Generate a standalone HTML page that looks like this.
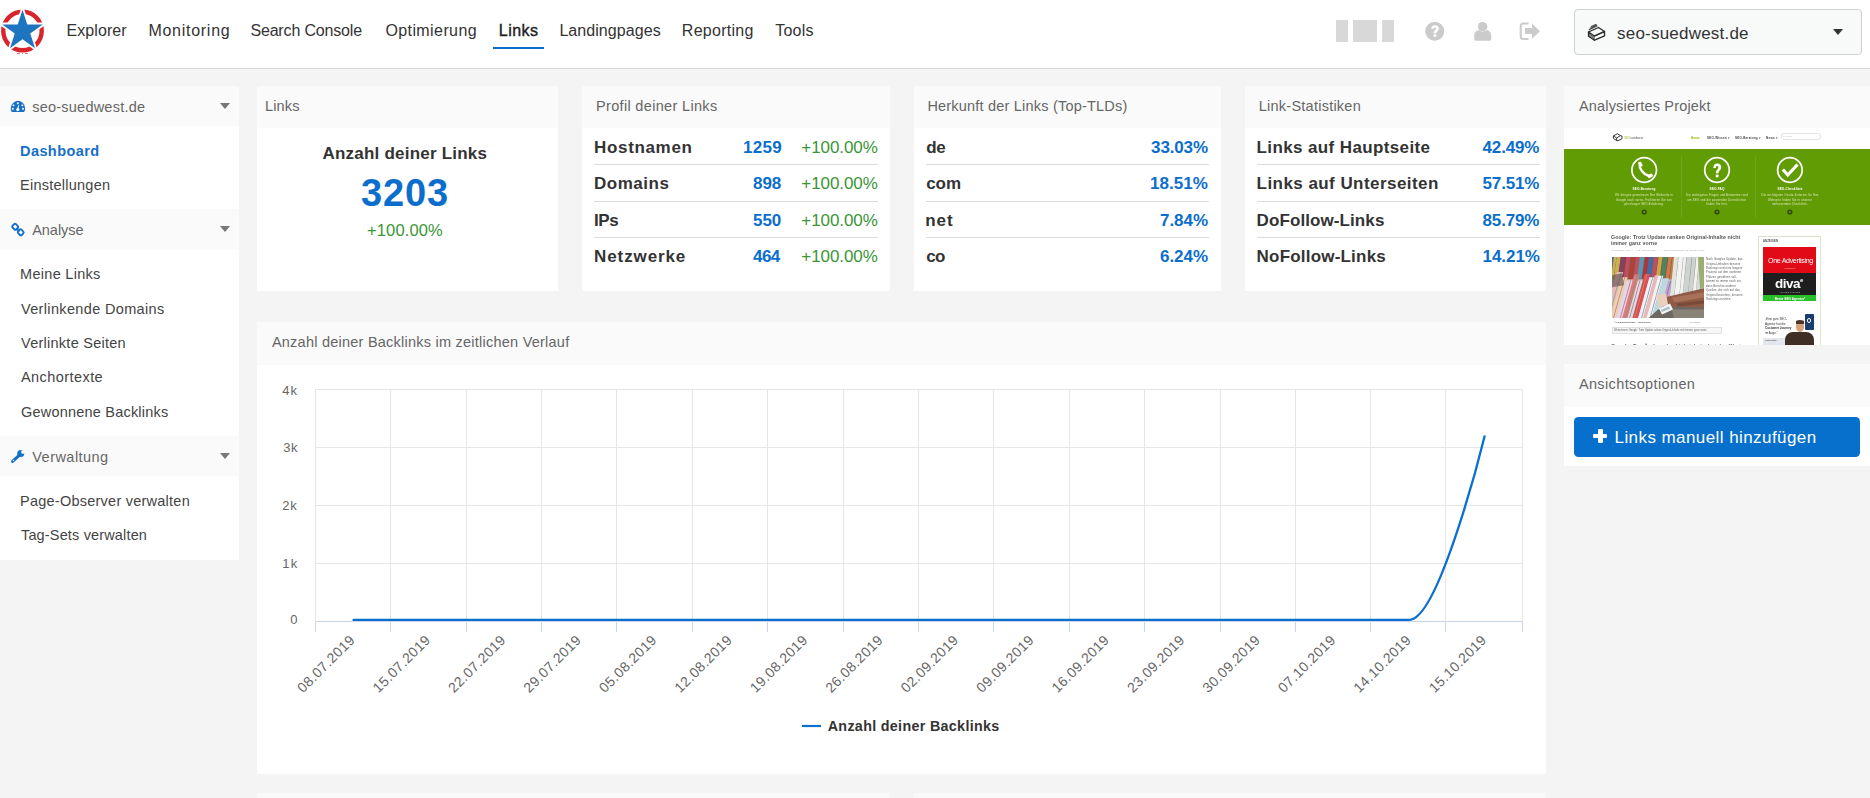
<!DOCTYPE html>
<html lang="de">
<head>
<meta charset="utf-8">
<title>Links – Dashboard</title>
<style>
*{box-sizing:border-box;margin:0;padding:0}
html,body{width:1870px;height:798px;overflow:hidden}
body{position:relative;background:#f4f4f4;font-family:"Liberation Sans",Arial,sans-serif;color:#333}
.a{position:absolute}
.t{position:absolute;white-space:nowrap;line-height:normal;font-family:"Liberation Sans",Arial,sans-serif}
.hdr{left:0;top:0;width:1870px;height:69px;background:#fff;border-bottom:1px solid #d9d9d9}
.pn{position:absolute;background:#fff}
.ph{position:absolute;left:0;top:0;right:0;background:#fafafa}
.band{position:absolute;left:0;width:239px;background:#fafafa}
.sep{position:absolute;height:1px;background:#dcdcdc}
.caret{position:absolute;width:0;height:0;border-left:5px solid transparent;border-right:5px solid transparent;border-top:6px solid #777}
.th{position:absolute;white-space:nowrap;font-family:"Liberation Sans",Arial,sans-serif;line-height:1}
</style>
</head>
<body>
<!-- ============ HEADER ============ -->
<div class="a hdr"></div>
<svg class="a" style="left:0;top:0" width="48" height="58" viewBox="0 0 48 58">
  <circle cx="22.5" cy="31" r="19.2" fill="none" stroke="#d9242c" stroke-width="4.4"/>
  <polygon points="22.50,9.70 27.28,24.42 42.76,24.42 30.24,33.51 35.02,48.23 22.50,39.14 9.98,48.23 14.76,33.51 2.24,24.42 17.72,24.42" fill="#1f74bf" stroke="#fff" stroke-width="3.6" stroke-linejoin="round" paint-order="stroke"/>
  <rect x="17" y="53" width="3" height="0.9" fill="#e06a6e"/>
  <rect x="22" y="53" width="1.2" height="0.9" fill="#6a9ed3"/>
  <rect x="25" y="53" width="3" height="0.9" fill="#e06a6e"/>
</svg>
<div class="a" style="left:493px;top:47px;width:51px;height:1.5px;background:#0b6ecd"></div>
<!-- right icons -->
<div class="a" style="left:1336px;top:20px;width:12px;height:22px;background:#d8d8d8"></div>
<div class="a" style="left:1353px;top:20px;width:24px;height:22px;background:#d8d8d8"></div>
<div class="a" style="left:1382px;top:20px;width:12px;height:22px;background:#d8d8d8"></div>
<svg class="a" style="left:1420px;top:16px" width="130" height="30" viewBox="1420 16 130 30">
  <circle cx="1434.7" cy="31.3" r="9.5" fill="#cbcbcb"/>
  <path d="M1431.2 28.6 C1431.4 26.2 1433 25.3 1435 25.3 C1437.4 25.3 1438.9 26.7 1438.9 28.5 C1438.9 30.8 1436.3 31.2 1436.3 33.2 L1433.6 33.2 C1433.6 30.4 1436.1 29.9 1436.1 28.6 C1436.1 27.8 1435.6 27.4 1434.9 27.4 C1434.1 27.4 1433.7 27.9 1433.6 28.9 Z" fill="#fff"/>
  <rect x="1433.6" y="34.3" width="2.7" height="2.6" fill="#fff"/>
  <circle cx="1482.6" cy="26.6" r="4.7" fill="#cbcbcb"/>
  <path d="M1475.9 40.7 Q1474.2 40.7 1474.2 39 L1474.2 36 C1474.2 32.3 1476.5 30.2 1479 29.9 C1480.2 31 1481.3 31.4 1482.7 31.4 C1484.1 31.4 1485.2 31 1486.4 29.9 C1489 30.2 1491.3 32.3 1491.3 36 L1491.3 39 Q1491.3 40.7 1489.6 40.7 Z" fill="#cbcbcb"/>
  <path d="M1528.5 23.6 L1523.2 23.6 Q1520.7 23.6 1520.7 26.1 L1520.7 36.4 Q1520.7 38.9 1523.2 38.9 L1528.5 38.9" fill="none" stroke="#cbcbcb" stroke-width="2"/>
  <path d="M1525 27.9 L1532 27.9 L1532 23.6 L1540 31.2 L1532 38.8 L1532 34 L1525 34 Z" fill="#cbcbcb"/>
</svg>
<!-- project dropdown -->
<div class="a" style="left:1574px;top:9px;width:288px;height:46px;border:1px solid #cfd1d1;border-radius:4px;background:#f8f9f9"></div>
<svg class="a" style="left:1586px;top:23px" width="22" height="20" viewBox="0 0 22 20">
  <g fill="none" stroke="#2a2a2a" stroke-linejoin="round" stroke-linecap="round">
    <path d="M2.5 9 L8.5 13 L8.5 17.2 L2.5 13.2 Z" stroke-width="1.3" fill="#bbb"/>
    <path d="M8.5 13 L18.5 8.5 L18.5 12.8 L8.5 17.2" stroke-width="1.4" fill="#fff"/>
    <path d="M2.5 9 L12.5 4.5 L18.5 8.5" stroke-width="1.3"/>
    <path d="M3.2 6.8 L11 3 M4.2 5.2 L10.6 2 M5.4 3.6 L9.6 1.6" stroke-width="1.2" stroke="#555"/>
    <path d="M3.4 11 L7.8 14 M3.4 12.6 L7.8 15.6" stroke-width="0.9" stroke="#555"/>
  </g>
</svg>
<div class="caret" style="left:1832.8px;top:29px;border-left-width:5.5px;border-right-width:5.5px;border-top-width:6px;border-top-color:#333"></div>
<!-- ============ SIDEBAR ============ -->
<div class="a" style="left:0;top:86px;width:239px;height:474px;background:#fff"></div>
<div class="band" style="top:86px;height:40px"></div>
<div class="band" style="top:209px;height:41px"></div>
<div class="band" style="top:436px;height:40px"></div>
<div class="caret" style="left:219.5px;top:103px"></div>
<div class="caret" style="left:219.5px;top:226px"></div>
<div class="caret" style="left:219.5px;top:453px"></div>
<!-- dashboard icon -->
<svg class="a" style="left:10px;top:100px" width="16" height="13" viewBox="0 0 16 13">
  <path d="M1.9 11.9 C1.1 10.9 0.8 9.9 0.8 8.7 C0.8 4.6 4.2 0.8 8 0.8 C11.8 0.8 15.1 4.6 15.1 8.7 C15.1 9.9 14.8 10.9 14 11.9 Z" fill="#1670c8"/>
  <g fill="#f9f9f9">
    <rect x="6.9" y="2.4" width="1.8" height="1.8"/>
    <rect x="2.6" y="4.5" width="1.8" height="1.6" transform="rotate(-30 3.5 5.3)"/>
    <rect x="11.4" y="4.5" width="1.8" height="1.6" transform="rotate(30 12.3 5.3)"/>
    <rect x="1.9" y="7.9" width="1.8" height="1.8"/>
    <rect x="12.1" y="7.9" width="1.8" height="1.8"/>
    <circle cx="7.8" cy="9.6" r="1.6"/>
    <path d="M7.2 9.2 L8.3 5.1 L9.1 5.3 L8.5 9.6 Z"/>
  </g>
</svg>
<!-- link icon -->
<svg class="a" style="left:10px;top:222px" width="18" height="18" viewBox="0 0 18 18">
  <g fill="none" stroke="#1670c8" stroke-width="1.9">
    <rect x="2.6" y="2.4" width="5.2" height="4.8" rx="1.6" transform="rotate(45 5.2 4.8)"/>
    <rect x="8.1" y="7.9" width="5.2" height="4.8" rx="1.6" transform="rotate(45 10.7 10.3)"/>
    <path d="M6.3 6.1 L9.6 9.4"/>
  </g>
</svg>
<!-- wrench icon -->
<svg class="a" style="left:10px;top:448px" width="17" height="17" viewBox="0 0 17 17">
  <defs><mask id="wm"><rect width="17" height="17" fill="#fff"/><circle cx="13.1" cy="3.9" r="1.95" fill="#000"/><path d="M12.9 4.1 L16 1 L17 2.5 Z" fill="#000"/></mask></defs>
  <g mask="url(#wm)" fill="#1670c8">
    <circle cx="10.7" cy="5.4" r="3.5"/>
  </g>
  <path d="M2.6 13.4 L8.6 7.8" stroke="#1670c8" stroke-width="3.1" stroke-linecap="round"/>
  <circle cx="3.4" cy="12.5" r="0.65" fill="#fff"/>
</svg>
<!-- ============ PANELS ============ -->
<div class="pn" style="left:257px;top:86px;width:301px;height:205px"><div class="ph" style="height:42px"></div></div>
<div class="pn" style="left:582px;top:86px;width:308px;height:205px"><div class="ph" style="height:42px"></div></div>
<div class="pn" style="left:914px;top:86px;width:307px;height:205px"><div class="ph" style="height:42px"></div></div>
<div class="pn" style="left:1245px;top:86px;width:301px;height:205px"><div class="ph" style="height:42px"></div></div>
<div class="pn" style="left:1564px;top:86px;width:306px;height:259px"><div class="ph" style="height:42px"></div></div>
<div class="pn" style="left:1564px;top:364px;width:306px;height:102px"><div class="ph" style="height:43px"></div></div>
<div class="pn" style="left:257px;top:322px;width:1289px;height:452px"><div class="ph" style="height:43px"></div></div>
<div class="pn" style="left:257px;top:793px;width:633px;height:10px;background:#f9f9f9"></div>
<div class="pn" style="left:914px;top:793px;width:632px;height:10px;background:#f9f9f9"></div>
<!-- row separators -->
<div class="sep" style="left:594px;top:164px;width:284px"></div>
<div class="sep" style="left:594px;top:201px;width:284px"></div>
<div class="sep" style="left:594px;top:237px;width:284px"></div>
<div class="sep" style="left:926px;top:164px;width:283px"></div>
<div class="sep" style="left:926px;top:201px;width:283px"></div>
<div class="sep" style="left:926px;top:237px;width:283px"></div>
<div class="sep" style="left:1257px;top:164px;width:283px"></div>
<div class="sep" style="left:1257px;top:201px;width:283px"></div>
<div class="sep" style="left:1257px;top:237px;width:283px"></div>
<!-- button -->
<div class="a" style="left:1574px;top:417px;width:286px;height:40px;background:#0670cc;border-radius:4.5px"></div>
<div class="a" style="left:1598.2px;top:429.2px;width:4.4px;height:13.8px;background:#fff;border-radius:1.2px"></div>
<div class="a" style="left:1593.3px;top:434.1px;width:14.2px;height:4.4px;background:#fff;border-radius:1.2px"></div>
<!-- ============ CHART ============ -->
<svg class="a" style="left:0;top:0" width="1870" height="798" viewBox="0 0 1870 798">
<path d="M315 389.5 L1523 389.5 M315 447.5 L1523 447.5 M315 505.5 L1523 505.5 M315 563.5 L1523 563.5 M315.5 389 L315.5 621.0 M390.5 389 L390.5 621.0 M466.5 389 L466.5 621.0 M541.5 389 L541.5 621.0 M616.5 389 L616.5 621.0 M692.5 389 L692.5 621.0 M767.5 389 L767.5 621.0 M843.5 389 L843.5 621.0 M918.5 389 L918.5 621.0 M993.5 389 L993.5 621.0 M1069.5 389 L1069.5 621.0 M1144.5 389 L1144.5 621.0 M1220.5 389 L1220.5 621.0 M1295.5 389 L1295.5 621.0 M1370.5 389 L1370.5 621.0 M1445.5 389 L1445.5 621.0 M1522.5 389 L1522.5 621.0" stroke="#e6e6e6" stroke-width="1" fill="none"/>
<path d="M315 621.5 L1523 621.5 M315.5 621.5 L315.5 632 M390.5 621.5 L390.5 632 M466.5 621.5 L466.5 632 M541.5 621.5 L541.5 632 M616.5 621.5 L616.5 632 M692.5 621.5 L692.5 632 M767.5 621.5 L767.5 632 M843.5 621.5 L843.5 632 M918.5 621.5 L918.5 632 M993.5 621.5 L993.5 632 M1069.5 621.5 L1069.5 632 M1144.5 621.5 L1144.5 632 M1220.5 621.5 L1220.5 632 M1295.5 621.5 L1295.5 632 M1370.5 621.5 L1370.5 632 M1445.5 621.5 L1445.5 632 M1522.5 621.5 L1522.5 632" stroke="#ccd6eb" stroke-width="1" fill="none"/>
<path d="M352.6 619.8 L1409.4 619.8 C1439.6 619.8 1484.8 435.4 1484.8 435.4" stroke="#0b6fd0" stroke-width="2.3" fill="none" stroke-linejoin="round"/>
<g font-family="Liberation Sans, Arial, sans-serif" font-size="14" fill="#666" text-anchor="end">
<text x="355.8" y="640.8" transform="rotate(-45 355.8 640.8)" letter-spacing="0.45">08.07.2019</text>
<text x="431.3" y="640.8" transform="rotate(-45 431.3 640.8)" letter-spacing="0.45">15.07.2019</text>
<text x="506.7" y="640.8" transform="rotate(-45 506.7 640.8)" letter-spacing="0.45">22.07.2019</text>
<text x="582.1" y="640.8" transform="rotate(-45 582.1 640.8)" letter-spacing="0.45">29.07.2019</text>
<text x="657.6" y="640.8" transform="rotate(-45 657.6 640.8)" letter-spacing="0.45">05.08.2019</text>
<text x="733.0" y="640.8" transform="rotate(-45 733.0 640.8)" letter-spacing="0.45">12.08.2019</text>
<text x="808.5" y="640.8" transform="rotate(-45 808.5 640.8)" letter-spacing="0.45">19.08.2019</text>
<text x="883.9" y="640.8" transform="rotate(-45 883.9 640.8)" letter-spacing="0.45">26.08.2019</text>
<text x="959.3" y="640.8" transform="rotate(-45 959.3 640.8)" letter-spacing="0.45">02.09.2019</text>
<text x="1034.8" y="640.8" transform="rotate(-45 1034.8 640.8)" letter-spacing="0.45">09.09.2019</text>
<text x="1110.2" y="640.8" transform="rotate(-45 1110.2 640.8)" letter-spacing="0.45">16.09.2019</text>
<text x="1185.7" y="640.8" transform="rotate(-45 1185.7 640.8)" letter-spacing="0.45">23.09.2019</text>
<text x="1261.1" y="640.8" transform="rotate(-45 1261.1 640.8)" letter-spacing="0.45">30.09.2019</text>
<text x="1336.5" y="640.8" transform="rotate(-45 1336.5 640.8)" letter-spacing="0.45">07.10.2019</text>
<text x="1412.0" y="640.8" transform="rotate(-45 1412.0 640.8)" letter-spacing="0.45">14.10.2019</text>
<text x="1487.4" y="640.8" transform="rotate(-45 1487.4 640.8)" letter-spacing="0.45">15.10.2019</text>
</g>
<path d="M802 726 L821 726" stroke="#0b6fd0" stroke-width="2.2"/>
</svg>
<!-- ============ PROJECT THUMBNAIL ============ -->
<div class="a" style="left:1564px;top:128px;width:306px;height:217px;overflow:hidden;background:#fff;filter:blur(0.3px)">
  <!-- top bar -->
  <svg class="a" style="left:48px;top:3px" width="12" height="12" viewBox="0 0 22 20">
    <g fill="none" stroke="#333" stroke-width="1.8" stroke-linejoin="round">
      <path d="M2.5 8 L10 4 L15.5 7.5 L8.5 11.8 Z"/><path d="M2.5 8 L2.5 12.5 L8.5 16.5 L8.5 11.8"/><path d="M8.5 16.5 L11 16.8 L18.2 13.2 L18.5 8.5 L15.5 7.5"/>
    </g>
  </svg>
  <div class="th" style="left:60px;top:7.5px;font-size:12px;color:#9cb826;transform:scale(.25);transform-origin:0 0">SEO<span style="color:#555">suedwest</span></div>
  <div class="th" style="left:126.8px;top:8.2px;font-size:12px;font-weight:700;color:#8cb800;letter-spacing:0.6px;transform:scale(.25);transform-origin:0 0">Home</div>
  <div class="th" style="left:142.7px;top:8.2px;font-size:12px;font-weight:700;color:#444;letter-spacing:0.8px;transform:scale(.25);transform-origin:0 0">SEO-Wissen ▾</div>
  <div class="th" style="left:171px;top:8.2px;font-size:12px;font-weight:700;color:#444;letter-spacing:0.8px;transform:scale(.25);transform-origin:0 0">SEO-Beratung ▾</div>
  <div class="th" style="left:201.8px;top:8.2px;font-size:12px;font-weight:700;color:#444;letter-spacing:1.2px;transform:scale(.25);transform-origin:0 0">News ▾</div>
  <div class="a" style="left:217.2px;top:4.9px;width:40.1px;height:6.8px;border:0.6px solid #e4e4e4;border-radius:3px"></div>
  <div class="th" style="left:219px;top:7.3px;font-size:8.8px;color:#bbb;transform:scale(.25);transform-origin:0 0">&#8981; Suchen</div>
  <!-- green band -->
  <div class="a" style="left:0;top:20.7px;width:306px;height:76.1px;background:#629c05"></div>
  <div class="a" style="left:117px;top:28px;width:0.7px;height:62px;background:rgba(255,255,255,.09)"></div>
  <div class="a" style="left:190.5px;top:28px;width:0.7px;height:62px;background:rgba(255,255,255,.09)"></div>
  <svg class="a" style="left:0;top:0" width="306" height="100" viewBox="0 0 306 100">
    <g fill="none" stroke="#fff" stroke-width="1.7">
      <circle cx="80.2" cy="42" r="12.3"/><circle cx="153" cy="42" r="12.3"/><circle cx="225.9" cy="42" r="12.3"/>
      <path d="M218.8 41.5 L223.8 47 L233.5 36.5" stroke-width="3.2"/>
    </g>
    <path d="M76.2 36.2 C74.6 39.6 79 46.6 85.4 48" stroke="#fff" stroke-width="2.4" fill="none" stroke-linecap="round"/>
    <rect x="74.6" y="33.6" width="3.4" height="5.2" rx="1.2" fill="#fff" transform="rotate(-28 76.3 36.2)"/>
    <rect x="83.6" y="46.2" width="5.2" height="3.4" rx="1.2" fill="#fff" transform="rotate(-28 86.2 47.9)"/>
    <path d="M149.3 40 C149.3 37.1 151.1 35.6 153.2 35.6 C155.5 35.6 157.2 37 157.2 39.2 C157.2 42 154.5 42.5 154.5 45.2 L151.8 45.2 C151.8 41.7 154.4 41.5 154.4 39.4 C154.4 38.4 153.9 37.9 153.1 37.9 C152.3 37.9 151.9 38.5 151.9 40 Z" fill="#fff"/>
    <rect x="151.8" y="46.6" width="2.7" height="2.7" fill="#fff"/>
    <g fill="#2f4f06"><circle cx="80.2" cy="84" r="2.6"/><circle cx="153" cy="84" r="2.6"/><circle cx="225.9" cy="84" r="2.6"/></g>
    <g fill="#9bbf60"><circle cx="80.2" cy="84" r="0.8"/><circle cx="153" cy="84" r="0.8"/><circle cx="225.9" cy="84" r="0.8"/></g>
  </svg>
  <div class="th" style="left:50px;width:240px;top:58.6px;font-size:12.4px;font-weight:700;color:#fff;text-align:center;letter-spacing:0.6px;transform:scale(.25);transform-origin:0 0">SEO-Beratung</div>
  <div class="th" style="left:123px;width:240px;top:58.6px;font-size:12.4px;font-weight:700;color:#fff;text-align:center;letter-spacing:0.6px;transform:scale(.25);transform-origin:0 0">SEO-FAQ</div>
  <div class="th" style="left:196px;width:240px;top:58.6px;font-size:12.4px;font-weight:700;color:#fff;text-align:center;letter-spacing:0.6px;transform:scale(.25);transform-origin:0 0">SEO-Checkliste</div>
  <div class="th" style="left:46px;width:272px;top:64.9px;font-size:11px;line-height:17.8px;color:rgba(240,246,230,.85);text-align:center;letter-spacing:0.9px;transform:scale(.25);transform-origin:0 0">Wir bringen gemeinsam Ihre Webseite in<br>Google nach vorne. Profitieren Sie von<br>jahrelanger SEO-Erfahrung.</div>
  <div class="th" style="left:117px;width:288px;top:64.9px;font-size:11px;line-height:17.8px;color:rgba(240,246,230,.85);text-align:center;letter-spacing:0.9px;transform:scale(.25);transform-origin:0 0">Die wichtigsten Fragen und Antworten rund<br>um SEO und die passenden Dienstleister<br>finden Sie hier.</div>
  <div class="th" style="left:190px;width:288px;top:64.9px;font-size:11px;line-height:17.8px;color:rgba(240,246,230,.85);text-align:center;letter-spacing:0.9px;transform:scale(.25);transform-origin:0 0">Die wichtigsten Onsite-Kriterien für Ihre<br>Webseite finden Sie in unserer<br>umfassenden Checkliste.</div>
  <!-- article -->
  <div class="th" style="left:47.4px;top:106.3px;font-size:21.2px;font-weight:700;color:#555;line-height:24.8px;letter-spacing:0.2px;transform:scale(.25);transform-origin:0 0">Google: Trotz Update ranken Original-Inhalte nicht<br>immer ganz vorne</div>
  <div class="th" style="left:48px;top:120.6px;font-size:10px;color:#aaa;transform:scale(.25);transform-origin:0 0">&#9679; Christian Kunz &nbsp; | &nbsp; &#9633; 15. Oktober 2019 &nbsp; | &nbsp; &#9675; Zuletzt aktualisiert: 15. Oktober 2019</div>
  <svg class="a" style="left:48px;top:128.6px;filter:blur(0.45px)" width="92" height="61.6" viewBox="0 0 92 61" preserveAspectRatio="none">
    <defs><clipPath id="bc"><rect width="92" height="61"/></clipPath></defs>
    <g clip-path="url(#bc)">
    <rect width="92" height="61" fill="#cbbfb8"/>
    <rect width="92" height="22" fill="#7a5d5e"/>
    <polygon points="-2.0,0 1.3,0 -1.7,22 -5.0,22" fill="#3b6fb0" opacity="0.85"/>
    <polygon points="1.9,0 4.5,0 1.5,22 -1.1,22" fill="#d8c050" opacity="0.85"/>
    <polygon points="4.7,0 8.6,0 5.6,22 1.7,22" fill="#d8c050" opacity="0.85"/>
    <polygon points="8.9,0 11.7,0 8.7,22 5.9,22" fill="#8a3a5a" opacity="0.85"/>
    <polygon points="11.8,0 14.5,0 11.5,22 8.8,22" fill="#8a3a5a" opacity="0.85"/>
    <polygon points="14.6,0 18.5,0 15.5,22 11.6,22" fill="#d04a5a" opacity="0.85"/>
    <polygon points="19.4,0 23.4,0 20.4,22 16.4,22" fill="#c0392b" opacity="0.85"/>
    <polygon points="24.3,0 27.8,0 24.8,22 21.3,22" fill="#d04a5a" opacity="0.85"/>
    <polygon points="27.8,0 32.5,0 29.5,22 24.8,22" fill="#5aa0c0" opacity="0.85"/>
    <polygon points="33.1,0 36.9,0 33.9,22 30.1,22" fill="#b03040" opacity="0.85"/>
    <polygon points="37.4,0 42.0,0 39.0,22 34.4,22" fill="#3b6fb0" opacity="0.85"/>
    <polygon points="42.1,0 46.0,0 43.0,22 39.1,22" fill="#d04a5a" opacity="0.85"/>
    <polygon points="46.6,0 50.5,0 47.5,22 43.6,22" fill="#e0b040" opacity="0.85"/>
    <polygon points="51.3,0 55.4,0 52.4,22 48.3,22" fill="#40905a" opacity="0.85"/>
    <polygon points="56.4,0 59.9,0 56.9,22 53.4,22" fill="#e08040" opacity="0.85"/>
    <polygon points="60.6,0 65.5,0 62.5,22 57.6,22" fill="#e08040" opacity="0.85"/>
    <polygon points="-8.0,61 -1.8,61 11.1,14.8 4.9,14.8" fill="#e8b8b8"/>
    <polygon points="-4.0,61 -3.2,61 9.7,14.8 8.9,14.8" fill="#60a070" opacity="0.7"/>
    <polygon points="-1.8,61 4.1,61 15.6,20.1 9.6,20.1" fill="#f0d0a8"/>
    <polygon points="0.9,61 1.7,61 13.2,20.1 12.4,20.1" fill="#9060a0" opacity="0.7"/>
    <polygon points="4.1,61 10.1,61 20.7,23.3 14.6,23.3" fill="#e2d6ea"/>
    <polygon points="7.7,61 8.5,61 19.1,23.3 18.3,23.3" fill="#c04050" opacity="0.7"/>
    <polygon points="10.1,61 15.4,61 27.6,17.4 22.3,17.4" fill="#e07a7a"/>
    <polygon points="12.9,61 13.7,61 25.9,17.4 25.1,17.4" fill="#60a070" opacity="0.7"/>
    <polygon points="15.4,61 20.2,61 30.8,23.4 25.9,23.4" fill="#cfe2ea"/>
    <polygon points="17.0,61 17.8,61 28.3,23.4 27.5,23.4" fill="#c04050" opacity="0.7"/>
    <polygon points="20.2,61 26.0,61 38.4,16.8 32.6,16.8" fill="#d85060"/>
    <polygon points="22.0,61 22.8,61 35.2,16.8 34.4,16.8" fill="#e0a030" opacity="0.7"/>
    <polygon points="26.0,61 30.9,61 42.3,20.1 37.5,20.1" fill="#f7f2ee"/>
    <polygon points="29.0,61 29.8,61 41.2,20.1 40.4,20.1" fill="#4070b0" opacity="0.7"/>
    <polygon points="30.9,61 34.4,61 46.5,18.0 42.9,18.0" fill="#e8b8b8"/>
    <polygon points="34.4,61 39.4,61 51.3,18.5 46.3,18.5" fill="#f7f2ee"/>
    <polygon points="37.5,61 38.3,61 50.2,18.5 49.4,18.5" fill="#4070b0" opacity="0.7"/>
    <polygon points="39.4,61 45.9,61 57.0,21.1 50.6,21.1" fill="#bcd8e0"/>
    <polygon points="45.9,61 51.6,61 62.1,23.6 56.3,23.6" fill="#c8a0c8"/>
    <polygon points="47.9,61 48.7,61 59.2,23.6 58.4,23.6" fill="#4070b0" opacity="0.7"/>
    <polygon points="51.6,61 57.2,61 69.0,18.8 63.4,18.8" fill="#f1e4d8"/>
    <polygon points="53.9,61 54.7,61 66.5,18.8 65.7,18.8" fill="#e0a030" opacity="0.7"/>
    <polygon points="57.2,61 60.8,61 72.3,20.1 68.7,20.1" fill="#8cc0d0"/>
    <polygon points="59.3,61 60.1,61 71.5,20.1 70.7,20.1" fill="#4070b0" opacity="0.7"/>
    <polygon points="58.0,40 62.5,40 66.5,0 62.0,0" fill="#dfe6dc"/>
    <polygon points="62.1,40 62.5,40 66.5,0 66.1,0" fill="#6b6a70" opacity="0.6"/>
    <polygon points="62.5,40 67.5,40 71.5,0 66.5,0" fill="#f2f2f0"/>
    <polygon points="67.1,40 67.5,40 71.5,0 71.1,0" fill="#6b6a70" opacity="0.6"/>
    <polygon points="67.5,40 70.7,40 74.7,0 71.5,0" fill="#f2f2f0"/>
    <polygon points="70.3,40 70.7,40 74.7,0 74.3,0" fill="#6b6a70" opacity="0.6"/>
    <polygon points="70.7,40 76.1,40 80.1,0 74.7,0" fill="#cdd3d0"/>
    <polygon points="75.7,40 76.1,40 80.1,0 79.7,0" fill="#6b6a70" opacity="0.6"/>
    <polygon points="76.1,40 80.3,40 84.3,0 80.1,0" fill="#cdd3d0"/>
    <polygon points="79.9,40 80.3,40 84.3,0 83.9,0" fill="#6b6a70" opacity="0.6"/>
    <polygon points="80.3,40 83.6,40 87.6,0 84.3,0" fill="#f2f2f0"/>
    <polygon points="83.2,40 83.6,40 87.6,0 87.2,0" fill="#6b6a70" opacity="0.6"/>
    <polygon points="83.6,40 87.8,40 91.8,0 87.6,0" fill="#d8dcdf"/>
    <polygon points="87.4,40 87.8,40 91.8,0 91.4,0" fill="#6b6a70" opacity="0.6"/>
    <polygon points="87.8,40 91.0,40 95.0,0 91.8,0" fill="#d8dcdf"/>
    <polygon points="90.6,40 91.0,40 95.0,0 94.6,0" fill="#6b6a70" opacity="0.6"/>
    <polygon points="91.0,40 95.3,40 99.3,0 95.0,0" fill="#e4e6e8"/>
    <polygon points="94.9,40 95.3,40 99.3,0 98.9,0" fill="#6b6a70" opacity="0.6"/>
    <polygon points="86,0 92,0 92,30 88,32" fill="#9ab070"/>
    <polygon points="52,40 92,31 92,52 58,52" fill="#8e5b45"/>
    <polygon points="60,40 92,35 92,40 62,45" fill="#a9715a"/>
    <polygon points="64,46 92,43 92,46 66,49" fill="#7a4a38"/>
    <polygon points="44,38 54,36 56,47 47,50" fill="#ead0bc"/>
    <polygon points="36,61 46,52 60,49 92,50 92,61" fill="#6e6862"/>
    <polygon points="60,52 92,52 92,61 62,61" fill="#8a8478"/>
    <polygon points="47,51 58,46 61,52 50,57" fill="#f2f4f6"/>
    <polygon points="49,52.5 57,49 58,51 50,54.5" fill="#7a90b0" opacity="0.6"/>
    <polygon points="0,18 10,16 12,28 0,30" fill="#5a4a4a" opacity="0.6"/>
    </g>
  </svg>
  <div class="th" style="left:141.7px;top:129.1px;font-size:11px;line-height:17.68px;color:#555;letter-spacing:0.6px;transform:scale(.25);transform-origin:0 0">Nach Googles Update, das<br>Original-Inhalten bessere<br>Rankings und eine längere<br>Präsenz auf den vorderen<br>Plätzen gewähren soll,<br>kommt es immer noch vor,<br>dass Berichte anderer<br>Quellen, die sich auf das<br>Original beziehen, bessere<br>Rankings erzielen.</div>
  <div class="th" style="left:49.5px;top:192.6px;font-size:9.2px;font-weight:700;color:#555;transform:scale(.25);transform-origin:0 0">&#169; Lumiophotostock - Fotolia.com</div>
  <div class="th" style="left:125px;top:192.6px;font-size:8.4px;color:#999;transform:scale(.25);transform-origin:0 0">#217139288</div>
  <div class="a" style="left:48px;top:199px;width:110px;height:6.6px;background:#f6f6f6;border:0.6px solid #e0e0e0"></div>
  <div class="th" style="left:50.3px;top:200.9px;font-size:10.2px;color:#666;transform:scale(.25);transform-origin:0 0">Weiterlesen: Google: Trotz Update ranken Original-Inhalte nicht immer ganz vorne</div>
  <div class="th" style="left:47.4px;top:214.6px;font-size:21.2px;font-weight:700;color:#666;letter-spacing:0.2px;transform:scale(.25);transform-origin:0 0">Google: Das Ändern des Linkziels ändert den Wert</div>
  <!-- ad -->
  <div class="a" style="left:194.3px;top:107.5px;width:62.7px;height:120px;border:0.8px solid #dfe3cc;background:#fff"></div>
  <div class="th" style="left:199px;top:112.2px;font-size:10.5px;font-weight:700;color:#444;letter-spacing:0.8px;transform:scale(.25);transform-origin:0 0">ANZEIGEN</div>
  <div class="a" style="left:199px;top:119.3px;width:53.3px;height:25.5px;background:#e30a17"></div>
  <div class="th" style="left:198px;top:129.2px;width:228px;text-align:center;font-size:28.4px;color:#fff;letter-spacing:-1.4px;transform:scale(.25);transform-origin:0 0">One Advertising</div>
  <div class="th" style="left:200px;top:139.3px;width:208px;text-align:center;font-size:8.8px;color:#fcc;transform:scale(.25);transform-origin:0 0">ein Service</div>
  <div class="a" style="left:199px;top:144.8px;width:53.3px;height:22.3px;background:#1e1e1e"></div>
  <div class="th" style="left:199px;top:148.2px;width:208px;text-align:center;font-size:54px;font-weight:700;color:#fff;letter-spacing:-2px;transform:scale(.25);transform-origin:0 0">diva<sup style="font-size:24px;vertical-align:24px">e</sup></div>
  <div class="th" style="left:200px;top:162.6px;width:208px;text-align:center;font-size:8.4px;color:#ccc;letter-spacing:2.8px;transform:scale(.25);transform-origin:0 0">ADVERTISING</div>
  <div class="a" style="left:199px;top:167.1px;width:53.3px;height:5.7px;background:#28bf28"></div>
  <div class="th" style="left:200px;top:168.5px;width:208px;text-align:center;font-size:12.8px;font-weight:700;color:#fff;transform:scale(.25);transform-origin:0 0">Beste SEO Agentur*</div>
  <div class="th" style="left:201px;top:188.6px;font-size:12px;line-height:18.2px;color:#333;transform:scale(.25);transform-origin:0 0">„Eine gute SEO-<br>Agentur hat die<br><b>Customer Journey</b><br>im Auge.“</div>
  <div class="a" style="left:241px;top:186.4px;width:8.5px;height:15.4px;background:#1d3d70;border-radius:1px"></div>
  <div class="a" style="left:243.3px;top:190px;width:4px;height:5px;border:0.8px solid #fff;border-radius:2px"></div>
  <div class="a" style="left:199px;top:209.5px;width:24px;height:8px;background:#e4e6ee"></div>
  <div class="th" style="left:201px;top:210.8px;font-size:9.6px;font-weight:700;color:#555;transform:scale(.25);transform-origin:0 0">Olaf Kopp</div>
  <div class="a" style="left:221px;top:204px;width:28.5px;height:14px;background:#3e2e24;border-radius:8px 8px 0 0"></div>
  <div class="a" style="left:231.6px;top:193px;width:8.6px;height:10.5px;background:#d6a27e;border-radius:45%"></div>
  <div class="a" style="left:231.6px;top:192.3px;width:8.6px;height:3.4px;background:#4a3426;border-radius:45% 45% 10% 10%"></div>
</div>
<div class="t" style="left:66.50px;top:22.00px;font-size:16px;font-weight:400;color:#333;letter-spacing:0.071px;">Explorer</div>
<div class="t" style="left:148.40px;top:22.00px;font-size:16px;font-weight:400;color:#333;letter-spacing:0.733px;">Monitoring</div>
<div class="t" style="left:250.40px;top:22.00px;font-size:16px;font-weight:400;color:#333;letter-spacing:-0.162px;">Search Console</div>
<div class="t" style="left:385.40px;top:22.00px;font-size:16px;font-weight:400;color:#333;letter-spacing:0.41px;">Optimierung</div>
<div class="t" style="left:498.80px;top:22.00px;font-size:16px;font-weight:400;color:#222;letter-spacing:0.45px;-webkit-text-stroke:0.4px #222">Links</div>
<div class="t" style="left:559.40px;top:22.00px;font-size:16px;font-weight:400;color:#333;letter-spacing:0.064px;">Landingpages</div>
<div class="t" style="left:681.80px;top:22.00px;font-size:16px;font-weight:400;color:#333;letter-spacing:0.275px;">Reporting</div>
<div class="t" style="left:775.20px;top:22.00px;font-size:16px;font-weight:400;color:#333;letter-spacing:0.225px;">Tools</div>
<div class="t" style="left:1617.00px;top:24.00px;font-size:17px;font-weight:400;color:#333;letter-spacing:0.214px;">seo-suedwest.de</div>
<div class="t" style="left:32.20px;top:99.00px;font-size:14.5px;font-weight:400;color:#666;letter-spacing:0.229px;">seo-suedwest.de</div>
<div class="t" style="left:20.00px;top:142.70px;font-size:14.5px;font-weight:700;color:#1670c8;letter-spacing:0.425px;">Dashboard</div>
<div class="t" style="left:20.00px;top:177.20px;font-size:14.5px;font-weight:400;color:#444;letter-spacing:0.25px;">Einstellungen</div>
<div class="t" style="left:32.20px;top:222.00px;font-size:14.5px;font-weight:400;color:#666;letter-spacing:-0.033px;">Analyse</div>
<div class="t" style="left:20.00px;top:265.80px;font-size:14.5px;font-weight:400;color:#444;letter-spacing:0.3px;">Meine Links</div>
<div class="t" style="left:21.00px;top:300.90px;font-size:14.5px;font-weight:400;color:#444;letter-spacing:0.344px;">Verlinkende Domains</div>
<div class="t" style="left:21.00px;top:334.90px;font-size:14.5px;font-weight:400;color:#444;letter-spacing:0.26px;">Verlinkte Seiten</div>
<div class="t" style="left:21.00px;top:368.90px;font-size:14.5px;font-weight:400;color:#444;letter-spacing:0.43px;">Anchortexte</div>
<div class="t" style="left:21.00px;top:404.00px;font-size:14.5px;font-weight:400;color:#444;letter-spacing:0.206px;">Gewonnene Backlinks</div>
<div class="t" style="left:32.30px;top:449.00px;font-size:14.5px;font-weight:400;color:#666;letter-spacing:0.456px;">Verwaltung</div>
<div class="t" style="left:20.00px;top:492.80px;font-size:14.5px;font-weight:400;color:#444;letter-spacing:0.241px;">Page-Observer verwalten</div>
<div class="t" style="left:21.00px;top:526.80px;font-size:14.5px;font-weight:400;color:#444;letter-spacing:0.153px;">Tag-Sets verwalten</div>
<div class="t" style="left:265.00px;top:97.90px;font-size:14.5px;font-weight:400;color:#666;letter-spacing:0.15px;">Links</div>
<div class="t" style="left:596.00px;top:97.90px;font-size:14.5px;font-weight:400;color:#666;letter-spacing:0.328px;">Profil deiner Links</div>
<div class="t" style="left:927.40px;top:97.90px;font-size:14.5px;font-weight:400;color:#666;letter-spacing:0.204px;">Herkunft der Links (Top-TLDs)</div>
<div class="t" style="left:1258.80px;top:97.90px;font-size:14.5px;font-weight:400;color:#666;letter-spacing:0.24px;">Link-Statistiken</div>
<div class="t" style="left:1578.90px;top:97.90px;font-size:14.5px;font-weight:400;color:#666;letter-spacing:0.184px;">Analysiertes Projekt</div>
<div class="t" style="left:1578.90px;top:376.10px;font-size:14.5px;font-weight:400;color:#666;letter-spacing:0.373px;">Ansichtsoptionen</div>
<div class="t" style="left:271.90px;top:334.10px;font-size:14.5px;font-weight:400;color:#666;letter-spacing:0.236px;">Anzahl deiner Backlinks im zeitlichen Verlauf</div>
<div class="t" style="left:322.50px;top:144.40px;font-size:17px;font-weight:700;color:#333;letter-spacing:0.217px;">Anzahl deiner Links</div>
<div class="t" style="left:361.00px;top:172.00px;font-size:38px;font-weight:700;color:#0b6ecd;letter-spacing:0.9px;">3203</div>
<div class="t" style="left:367.00px;top:221.00px;font-size:16.5px;font-weight:400;color:#3b9536;letter-spacing:0.143px;">+100.00%</div>
<div class="t" style="left:594.10px;top:138.00px;font-size:17px;font-weight:700;color:#333;letter-spacing:0.65px;">Hostnamen</div>
<div class="t" style="left:743.10px;top:138.00px;font-size:17px;font-weight:700;color:#0b6ecd;letter-spacing:0.3px;">1259</div>
<div class="t" style="left:801.30px;top:138.00px;font-size:17px;font-weight:400;color:#3b9536;letter-spacing:-0.071px;">+100.00%</div>
<div class="t" style="left:594.10px;top:173.80px;font-size:17px;font-weight:700;color:#333;letter-spacing:0.5px;">Domains</div>
<div class="t" style="left:753.10px;top:173.80px;font-size:17px;font-weight:700;color:#0b6ecd;letter-spacing:-0.1px;">898</div>
<div class="t" style="left:801.30px;top:173.80px;font-size:17px;font-weight:400;color:#3b9536;letter-spacing:-0.071px;">+100.00%</div>
<div class="t" style="left:594.10px;top:210.50px;font-size:17px;font-weight:700;color:#333;letter-spacing:-0.45px;">IPs</div>
<div class="t" style="left:753.10px;top:210.50px;font-size:17px;font-weight:700;color:#0b6ecd;letter-spacing:-0.1px;">550</div>
<div class="t" style="left:801.30px;top:210.50px;font-size:17px;font-weight:400;color:#3b9536;letter-spacing:-0.071px;">+100.00%</div>
<div class="t" style="left:594.10px;top:246.90px;font-size:17px;font-weight:700;color:#333;letter-spacing:0.887px;">Netzwerke</div>
<div class="t" style="left:753.10px;top:246.90px;font-size:17px;font-weight:700;color:#0b6ecd;letter-spacing:-0.6px;">464</div>
<div class="t" style="left:801.30px;top:246.90px;font-size:17px;font-weight:400;color:#3b9536;letter-spacing:-0.071px;">+100.00%</div>
<div class="t" style="left:926.20px;top:138.00px;font-size:17px;font-weight:700;color:#333;letter-spacing:-0.4px;">de</div>
<div class="t" style="left:1151.10px;top:138.00px;font-size:17px;font-weight:700;color:#0b6ecd;letter-spacing:-0.14px;">33.03%</div>
<div class="t" style="left:926.20px;top:173.80px;font-size:17px;font-weight:700;color:#333;letter-spacing:-0.05px;">com</div>
<div class="t" style="left:1150.10px;top:173.80px;font-size:17px;font-weight:700;color:#0b6ecd;letter-spacing:0.0px;">18.51%</div>
<div class="t" style="left:925.20px;top:210.50px;font-size:17px;font-weight:700;color:#333;letter-spacing:1.0px;">net</div>
<div class="t" style="left:1160.10px;top:210.50px;font-size:17px;font-weight:700;color:#0b6ecd;letter-spacing:-0.075px;">7.84%</div>
<div class="t" style="left:926.20px;top:246.90px;font-size:17px;font-weight:700;color:#333;letter-spacing:-0.6px;">co</div>
<div class="t" style="left:1160.10px;top:246.90px;font-size:17px;font-weight:700;color:#0b6ecd;letter-spacing:-0.075px;">6.24%</div>
<div class="t" style="left:1256.60px;top:138.00px;font-size:17px;font-weight:700;color:#333;letter-spacing:0.379px;">Links auf Hauptseite</div>
<div class="t" style="left:1482.50px;top:138.00px;font-size:17px;font-weight:700;color:#0b6ecd;letter-spacing:-0.14px;">42.49%</div>
<div class="t" style="left:1256.60px;top:173.80px;font-size:17px;font-weight:700;color:#333;letter-spacing:0.445px;">Links auf Unterseiten</div>
<div class="t" style="left:1482.50px;top:173.80px;font-size:17px;font-weight:700;color:#0b6ecd;letter-spacing:-0.14px;">57.51%</div>
<div class="t" style="left:1256.60px;top:210.50px;font-size:17px;font-weight:700;color:#333;letter-spacing:0.092px;">DoFollow-Links</div>
<div class="t" style="left:1482.50px;top:210.50px;font-size:17px;font-weight:700;color:#0b6ecd;letter-spacing:-0.14px;">85.79%</div>
<div class="t" style="left:1256.60px;top:246.90px;font-size:17px;font-weight:700;color:#333;letter-spacing:0.2px;">NoFollow-Links</div>
<div class="t" style="left:1482.50px;top:246.90px;font-size:17px;font-weight:700;color:#0b6ecd;letter-spacing:-0.04px;">14.21%</div>
<div class="t" style="left:1614.50px;top:427.70px;font-size:17px;font-weight:400;color:#fff;letter-spacing:0.426px;">Links manuell hinzufügen</div>
<div class="t" style="left:827.70px;top:717.60px;font-size:14.3px;font-weight:700;color:#333;letter-spacing:0.323px;">Anzahl deiner Backlinks</div>
<div class="t" style="left:282.20px;top:382.80px;font-size:13px;font-weight:400;color:#666;letter-spacing:1.0px;">4k</div>
<div class="t" style="left:283.20px;top:439.80px;font-size:13px;font-weight:400;color:#666;letter-spacing:0.5px;">3k</div>
<div class="t" style="left:282.20px;top:498.10px;font-size:13px;font-weight:400;color:#666;letter-spacing:0.9px;">2k</div>
<div class="t" style="left:282.20px;top:555.80px;font-size:13px;font-weight:400;color:#666;letter-spacing:1.3px;">1k</div>
<div class="t" style="left:290.20px;top:612.40px;font-size:13px;font-weight:400;color:#666;letter-spacing:0px;">0</div>
</body></html>
